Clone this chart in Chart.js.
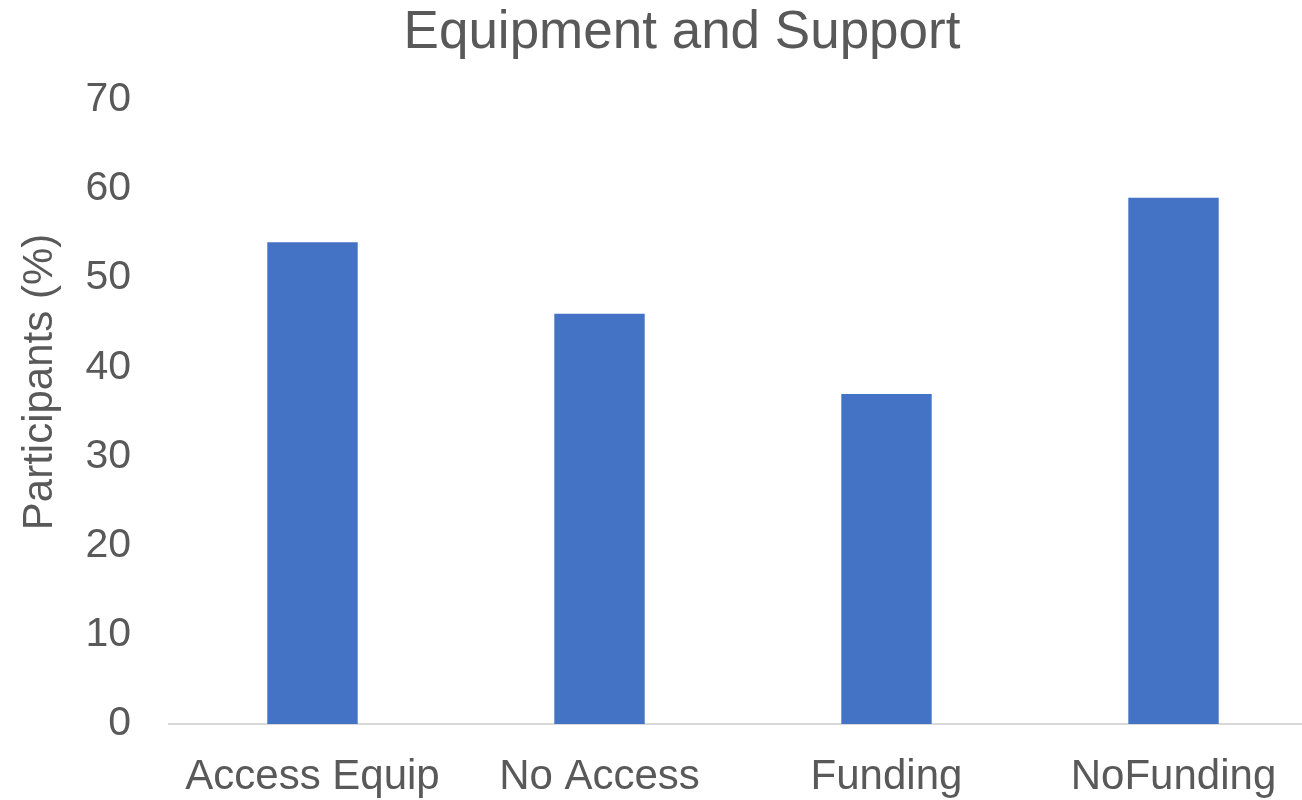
<!DOCTYPE html>
<html>
<head>
<meta charset="utf-8">
<script src="https://cdn.jsdelivr.net/npm/chart.js@4/dist/chart.umd.min.js"></script>
<style>
  html, body { margin: 0; padding: 0; background: #fff; overflow: hidden; }
  /* the original plot runs slightly past the right edge of the picture */
  #wrap { width: 1317px; height: 800px; }
</style>
</head>
<body>
<div id="wrap"><canvas id="chart"></canvas></div>
<script>
// Chart data
const categories = ['Access Equip', 'No Access', 'Funding', 'NoFunding'];
const participants = [54, 46, 37, 59];
const yTicks = [0, 10, 20, 30, 40, 50, 60, 70];
const yTitle = 'Participants (%)';

const textColor = '#595959';
const fontFamily = 'Arial, "Liberation Sans", sans-serif';

// Draw the y axis title a bit above the plot centre, like the original
const yTitlePlugin = {
    id: 'yTitle',
    afterDraw(chart) {
        const c = chart.ctx;
        c.save();
        c.translate(40, 382);
        c.rotate(-Math.PI / 2);
        c.font = '42px ' + fontFamily;
        c.fillStyle = textColor;
        c.textAlign = 'center';
        c.textBaseline = 'middle';
        c.fillText(yTitle, 0, 0);
        c.restore();
    }
};

const ctx = document.getElementById('chart').getContext('2d');
new Chart(ctx, {
    type: 'bar',
    data: {
        labels: categories,
        datasets: [{
            label: yTitle,
            data: participants,
            backgroundColor: '#4472C4',
            borderWidth: 0,
            categoryPercentage: 1,
            barPercentage: 0.315
        }]
    },
    options: {
        responsive: true,
        maintainAspectRatio: false,
        animation: false,
        layout: { padding: { left: 47, right: 0, top: 0, bottom: 0 } },
        plugins: {
            legend: { display: false },
            tooltip: { enabled: false },
            title: {
                display: true,
                text: 'Equipment and Support',
                color: textColor,
                font: { family: fontFamily, size: 53, weight: 'normal' },
                padding: { top: 2, bottom: 34 }
            }
        },
        scales: {
            x: {
                grid: { display: false },
                border: { display: true, color: '#d9d9d9', width: 2 },
                ticks: {
                    color: textColor,
                    font: { family: fontFamily, size: 42 },
                    padding: 20,
                    maxRotation: 0
                },
                afterFit: function(scale) { scale.height = 76; }
            },
            y: {
                min: 0,
                max: 70,
                grid: { display: false },
                border: { display: false },
                afterBuildTicks: function(scale) {
                    scale.ticks = yTicks.map(v => ({ value: v }));
                },
                ticks: {
                    color: textColor,
                    font: { family: fontFamily, size: 41 },
                    padding: 30
                },
                afterFit: function(scale) { scale.width = 122; }
            }
        }
    },
    plugins: [yTitlePlugin]
});
</script>
</body>
</html>
